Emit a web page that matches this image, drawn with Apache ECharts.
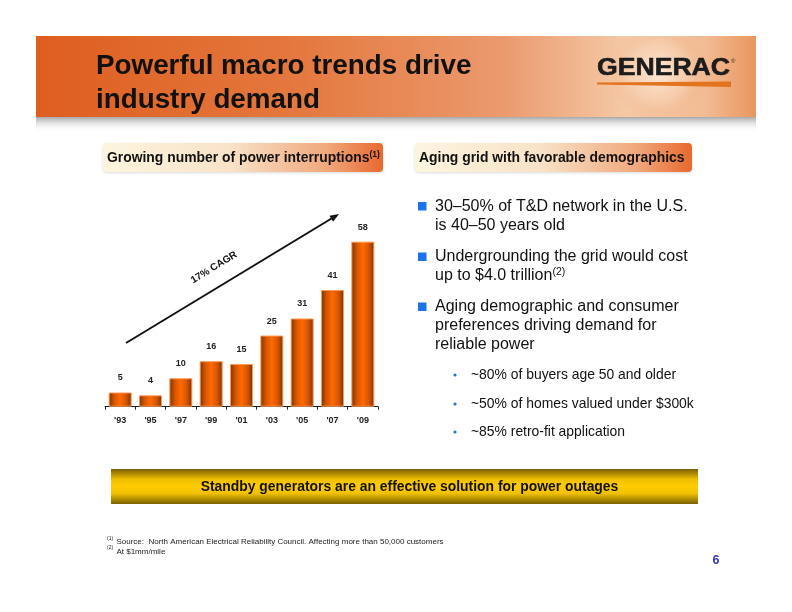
<!DOCTYPE html>
<html>
<head>
<meta charset="utf-8">
<script src="https://cdn.jsdelivr.net/npm/echarts@6/dist/echarts.min.js"></script>
<style>
html,body{margin:0;padding:0;background:#fff;}
#chart{width:792px;height:612px;}
</style>
</head>
<body>
<div id="chart"></div>
<script>
// ---- data ----
var categories = ["'93","'95","'97","'99","'01","'03","'05","'07","'09"];
var interruptions = [5, 4, 10, 16, 15, 25, 31, 41, 58];
var titleLines = ["Powerful macro trends drive", "industry demand"];
var leftHeader = "Growing number of power interruptions";
var rightHeader = "Aging grid with favorable demographics";
var cagrLabel = "17% CAGR";
var bullets = [
  ["30\u201350% of T&D network in the U.S.", "is 40\u201350 years old"],
  ["Undergrounding the grid would cost", "up to $4.0 trillion"],
  ["Aging demographic and consumer", "preferences driving demand for", "reliable power"]
];
var subBullets = ["~80% of buyers age 50 and older", "~50% of homes valued under $300k", "~85% retro-fit application"];
var banner = "Standby generators are an effective solution for power outages";
var footnotes = ["Source:  North American Electrical Reliability Council. Affecting more than 50,000 customers", "At $1mm/mile"];

var SANS = "Liberation Sans";
var chart = echarts.init(document.getElementById('chart'), null, {renderer: 'canvas'});

// font size that makes a string a given width
var mctx = document.createElement('canvas').getContext('2d');
function fit(text, weight, width) {
  mctx.font = weight + ' 100px "' + SANS + '"';
  return Math.round(100 * width / mctx.measureText(text).width * 10) / 10;
}
function ts(text, size, weight, extra) {
  var s = {text:text, fontFamily:SANS, fontSize:size, fontWeight:weight||'normal', fill:'#111'};
  if (extra) for (var k in extra) s[k] = extra[k];
  return s;
}

var titleSize = fit(titleLines[0], 'bold', 375);
var bulletSize = fit(bullets[0][0], 'normal', 252);
var subSize = fit(subBullets[1], 'normal', 223);
var hdrSize = fit(rightHeader, 'bold', 265);
var bannerSize = fit(banner, 'bold', 419);
var footSize = fit(footnotes[0], 'normal', 329);

var g = [];
// header shadow
g.push({type:'rect', shape:{x:36,y:116,width:720,height:16}, style:{fill:{type:'linear',x:0,y:0,x2:0,y2:1,colorStops:[
  {offset:0,color:'rgba(120,120,120,0.75)'},{offset:0.4,color:'rgba(170,170,170,0.4)'},{offset:1,color:'rgba(255,255,255,0)'}]}}, z:0});
// header band
g.push({type:'rect', shape:{x:36,y:36,width:720,height:81}, style:{fill:{type:'linear',x:0,y:0,x2:1,y2:0,colorStops:[
  {offset:0,color:'#de5e1f'},{offset:0.35,color:'#e4773d'},{offset:0.65,color:'#eb9a6e'},{offset:0.82,color:'#f5c9a6'},{offset:0.93,color:'#f2bb94'},{offset:1,color:'#e9965f'}]}}, z:1});
g.push({type:'rect', shape:{x:560,y:36,width:196,height:81}, style:{fill:{type:'radial',x:0.5,y:0.45,r:0.6,colorStops:[
  {offset:0,color:'rgba(253,236,220,0.95)'},{offset:0.6,color:'rgba(248,214,186,0.5)'},{offset:1,color:'rgba(240,170,120,0)'}]}}, z:2});
// title
g.push({type:'text', x:96, y:66.5, style:ts(titleLines[0], titleSize, 'bold', {verticalAlign:'middle'}), z:5});
g.push({type:'text', x:96, y:100, style:ts(titleLines[1], titleSize, 'bold', {verticalAlign:'middle'}), z:5});
// logo
var logoSize = 23.5;
mctx.font = 'bold ' + logoSize + 'px "' + SANS + '"';
var logoScale = 133 / mctx.measureText('GENERAC').width;
g.push({type:'text', x:597, y:69, scaleX:logoScale, style:ts('GENERAC', logoSize, 'bold', {fill:'#1c1c1c', verticalAlign:'middle', stroke:'#1c1c1c', lineWidth:0.6}), z:5});
g.push({type:'text', x:731, y:61, style:ts('\u00ae', 6, 'normal', {fill:'#333', verticalAlign:'middle'}), z:5});
g.push({type:'polygon', shape:{points:[[597,82.5],[731,81.5],[731,87],[597,84.5]]}, style:{fill:'#e2731f'}, z:5});

// section headers
function headerBox(x, w, txt, sup) {
  g.push({type:'rect', shape:{x:x,y:143,width:w,height:29,r:4}, style:{fill:{type:'linear',x:0,y:0,x2:1,y2:0,colorStops:[
    {offset:0,color:'#fdf5df'},{offset:0.45,color:'#f8e3c8'},{offset:0.8,color:'#f0a87c'},{offset:1,color:'#e8692e'}]},
    shadowBlur:3, shadowColor:'rgba(0,0,0,0.15)', shadowOffsetY:1}, z:3});
  g.push({type:'text', x:x+4, y:158, style:{text: sup ? '{a|'+txt+'}{s|(1)}' : txt, fontFamily:SANS, fontSize:hdrSize, fontWeight:'bold', fill:'#111', verticalAlign:'middle',
    rich:{a:{fontFamily:SANS, fontSize:hdrSize, fontWeight:'bold', fill:'#111'}, s:{fontFamily:SANS, fontSize:8.5, fontWeight:'bold', fill:'#111', verticalAlign:'top', padding:[0,0,7,0]}}}, z:5});
}
headerBox(103, 280, leftHeader, true);
headerBox(415, 277, rightHeader, false);

// arrow
var ax1=126, ay1=343, ax2=339, ay2=214;
g.push({type:'line', shape:{x1:ax1,y1:ay1,x2:ax2-5,y2:ay2+3}, style:{stroke:'#111', lineWidth:2}, z:5});
(function(){
  var dx=ax2-ax1, dy=ay2-ay1, L=Math.sqrt(dx*dx+dy*dy); var ux=dx/L, uy=dy/L; var px=-uy, py=ux;
  var bx=ax2-ux*9, by=ay2-uy*9;
  g.push({type:'polygon', shape:{points:[[ax2,ay2],[bx+px*3.5,by+py*3.5],[bx-px*3.5,by-py*3.5]]}, style:{fill:'#111'}, z:5});
})();
g.push({type:'text', x:214, y:267.5, rotation: 31.5*Math.PI/180, style:ts(cagrLabel, 10, 'bold', {align:'center', verticalAlign:'middle'}), z:5});

// bullets
var by0 = [206.5, 257, 307];
bullets.forEach(function(lines, i){
  g.push({type:'rect', shape:{x:418,y:by0[i]-4.5,width:8.5,height:8.5}, style:{fill:'#1a73e8'}, z:5});
  lines.forEach(function(t, j){
    var txt = (i===1 && j===1) ? '{a|'+t+'}{s|(2)}' : t;
    g.push({type:'text', x:435, y:by0[i]+j*19, style:{text:txt, fontFamily:SANS, fontSize:bulletSize, fill:'#111', verticalAlign:'middle',
      rich:{a:{fontFamily:SANS, fontSize:bulletSize, fill:'#111'}, s:{fontFamily:SANS, fontSize:10.5, fill:'#111', verticalAlign:'top', padding:[0,0,8,0]}}}, z:5});
  });
});
var sy0 = [375, 404, 432];
subBullets.forEach(function(t, i){
  g.push({type:'circle', shape:{cx:455, cy:sy0[i], r:1.6}, style:{fill:'#1a73e8'}, z:5});
  g.push({type:'text', x:471, y:sy0[i], style:ts(t, subSize, 'normal', {verticalAlign:'middle'}), z:5});
});

// gold banner
g.push({type:'rect', shape:{x:111,y:469,width:587,height:35}, style:{fill:{type:'linear',x:0,y:0,x2:0,y2:1,colorStops:[
  {offset:0,color:'#7a6000'},{offset:0.3,color:'#f0c000'},{offset:0.5,color:'#ffcc00'},{offset:0.7,color:'#f0c000'},{offset:1,color:'#7a6000'}]}}, z:3});
g.push({type:'text', x:409.5, y:487, style:ts(banner, bannerSize, 'bold', {align:'center', verticalAlign:'middle'}), z:5});

// footnotes
footnotes.forEach(function(t, i){
  g.push({type:'text', x:107, y:542+i*9.5, style:{text:'{s|('+(i+1)+')} {a|'+t+'}', verticalAlign:'middle',
    rich:{a:{fontFamily:SANS, fontSize:footSize, fill:'#222'}, s:{fontFamily:SANS, fontSize:5, fill:'#222', verticalAlign:'top', padding:[0,0,3,0]}}}, z:5});
});
g.push({type:'text', x:716, y:561, style:ts('6', 12.5, 'bold', {fill:'#3333cc', align:'center', verticalAlign:'middle'}), z:5});

var option = {
  backgroundColor:'#ffffff',
  animation:false,
  grid:{left:105, width:273, top:207.5, height:199.2},
  xAxis:{type:'category', data:categories,
    axisLine:{lineStyle:{color:'#222', width:1}},
    axisTick:{show:true, length:3, lineStyle:{color:'#222'}},
    axisLabel:{fontFamily:SANS, fontWeight:'bold', fontSize:9, color:'#222', margin:9}},
  yAxis:{type:'value', min:0, max:70, show:false, splitLine:{show:false}},
  series:[{type:'bar', data:interruptions, barWidth:23,
    itemStyle:{color:{type:'linear',x:0,y:0,x2:1,y2:0,colorStops:[
      {offset:0,color:'#7a3200'},{offset:0.25,color:'#d85600'},{offset:0.5,color:'#ff6a00'},{offset:0.75,color:'#d85600'},{offset:1,color:'#7a3200'}]},
      borderColor:'#ff9a55', borderWidth:1},
    label:{show:true, position:'top', distance:10, fontFamily:SANS, fontWeight:'bold', fontSize:9, color:'#222'}}],
  graphic:g
};
chart.setOption(option);
</script>
</body>
</html>
